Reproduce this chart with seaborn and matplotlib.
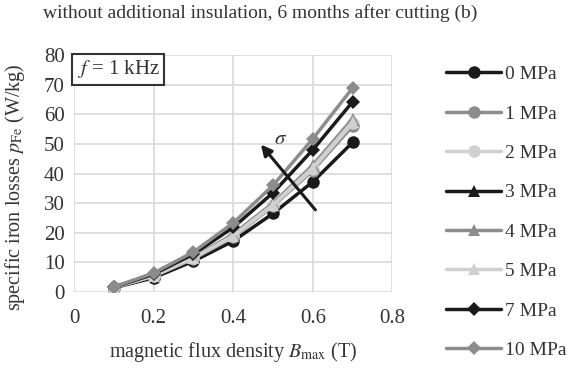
import matplotlib
matplotlib.use("Agg")
import matplotlib.pyplot as plt
import seaborn as sns
import pandas as pd
from matplotlib.lines import Line2D

sns.set_theme(style="white")
plt.rcParams['font.family'] = ['Liberation Serif', 'DejaVu Serif']
plt.rcParams['mathtext.fontset'] = 'stix'

B = [0.1, 0.2, 0.3, 0.4, 0.5, 0.6, 0.7]
labels = ["0 MPa", "1 MPa", "2 MPa", "3 MPa", "4 MPa", "5 MPa", "7 MPa", "10 MPa"]
p0 = [1.4, 4.8, 10.4, 17.2, 26.5, 37.2, 50.5]
p1 = [1.5, 5.3, 11.2, 18.5, 29.0, 41.0, 56.0]
p2 = [1.5, 5.4, 11.4, 18.8, 29.3, 41.5, 57.0]
p3 = [1.5, 5.5, 11.6, 19.3, 29.8, 42.3, 58.0]
p4 = [1.5, 5.5, 11.7, 19.5, 30.0, 42.8, 58.5]
p5 = [1.5, 5.4, 11.5, 19.0, 29.5, 42.0, 57.5]
p7 = [1.6, 6.0, 12.8, 21.8, 33.5, 48.0, 64.2]
p10 = [1.7, 6.4, 13.5, 23.3, 36.0, 51.7, 68.9]
series = [p0, p1, p2, p3, p4, p5, p7, p10]

colors = ["#1a1a1a", "#8c8c8c", "#d0d0d0", "#1a1a1a", "#8c8c8c", "#d0d0d0", "#1a1a1a", "#8c8c8c"]
markers = ["o", "o", "o", "^", "^", "^", "D", "D"]
msizes = [9, 9, 9, 9, 9, 9, 7, 7]

fig = plt.figure(figsize=(5.71, 3.70), dpi=100)
ax = fig.add_axes([0.13, 0.211, 0.557, 0.64])

handles = []
for lab, vals, c, m, ms in zip(labels, series, colors, markers, msizes):
    df = pd.DataFrame({"B": B, "p": vals})
    sns.lineplot(data=df, x="B", y="p", ax=ax, color=c, marker=m, markersize=ms,
                 linewidth=2.5, markeredgewidth=0, legend=False, zorder=3)
    handles.append(Line2D([], [], color=c, marker=m, markersize=ms, linewidth=2.5,
                          markeredgewidth=0, label=lab))

ax.set_xlim(0, 0.8)
ax.set_ylim(0, 80)
ax.set_xticks([0, 0.2, 0.4, 0.6, 0.8])
ax.set_xticklabels(["0", "0.2", "0.4", "0.6", "0.8"])
ax.set_yticks(range(0, 81, 10))
ax.grid(True, color="#d9d9d9", linewidth=1.2)
for s in ax.spines.values():
    s.set_visible(False)
ax.tick_params(axis="x", labelsize=15, colors="#333333", length=0, pad=12)
ax.tick_params(axis="y", labelsize=15, colors="#333333", length=0, pad=7)
ax.set_xlabel(r"magnetic flux density $B_{\rm max}$ (T)", fontsize=14.5, color="#333333", labelpad=9)
ax.set_ylabel(r"specific iron losses $p_{\rm Fe}$ (W/kg)", fontsize=14.5, color="#333333")
ax.yaxis.set_label_coords(-0.148, 0.44)

ax.text(0.006, 75.2, r"$f$ = 1 kHz", fontsize=15, color="#333333", va="center", ha="left",
        bbox=dict(boxstyle="square,pad=0.2", facecolor="white", edgecolor="#333333", linewidth=1.5),
        zorder=5)

ax.annotate("", xy=(0.465, 50.5), xytext=(0.611, 27.0),
            arrowprops=dict(arrowstyle="-|>", color="#1a1a1a", lw=2.2, mutation_scale=16), zorder=6)
ax.text(0.52, 51.5, r"$\sigma$", fontsize=15, color="#333333", ha="center", va="center", zorder=6)

fig.suptitle("without additional insulation, 6 months after cutting (b)", fontsize=14,
             color="#333333", x=0.455, y=0.99)

fig.legend(handles=handles, loc="upper left", bbox_to_anchor=(0.751, 0.87), frameon=False,
           fontsize=14, handlelength=2.8, labelspacing=1.12, handletextpad=0.2,
           labelcolor="#333333")

fig.savefig("out.png", dpi=100)
